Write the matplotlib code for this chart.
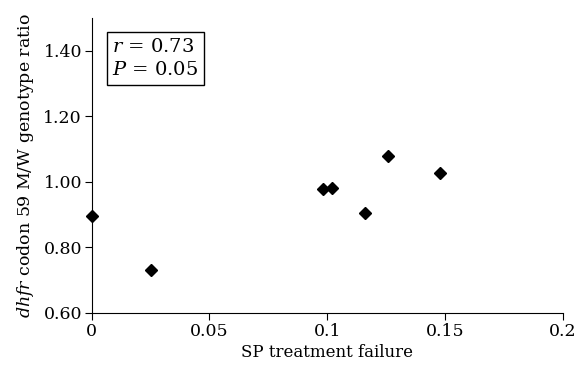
import numpy as np
import matplotlib
matplotlib.use('Agg')
import matplotlib.pyplot as plt

plt.rcParams['font.family'] = 'DejaVu Serif'
plt.rcParams['mathtext.fontset'] = 'dejavuserif'

# SP treatment failure vs dhfr ratio
failure = [0.0, 0.025, 0.098, 0.102, 0.116, 0.126, 0.148]
ratio = [0.895, 0.73, 0.977, 0.982, 0.905, 1.078, 1.026]

x_ticks = [0, 0.05, 0.1, 0.15, 0.2]
x_labels = ['0', '0.05', '0.1', '0.15', '0.2']
y_ticks = [0.6, 0.8, 1.0, 1.2, 1.4]

fig = plt.figure(figsize=(5.88, 3.69), dpi=100)
ax = fig.add_axes([0.156, 0.152, 0.801, 0.799])

ax.plot(failure, ratio, linestyle='none', marker='D', markersize=6.5,
        color='black', clip_on=False, zorder=3)

ax.set_xlim(0, 0.2)
ax.set_ylim(0.6, 1.5)
ax.set_xticks(x_ticks)
ax.set_xticklabels(x_labels)
ax.set_yticks(y_ticks)
ax.set_yticklabels(['%.2f' % v for v in y_ticks])
ax.spines['top'].set_visible(False)
ax.spines['right'].set_visible(False)
ax.tick_params(labelsize=12.5, length=5, direction='out', pad=2)

ax.set_xlabel('SP treatment failure', fontsize=12, labelpad=3)
ax.set_ylabel(r'$\it{dhfr}$ codon 59 M/W genotype ratio', fontsize=12.5, labelpad=5)

ax.text(0.0088, 1.377, '$\\it{r}$ = 0.73\n$\\it{P}$ = 0.05', fontsize=14,
        va='center', ha='left', linespacing=1.35,
        bbox=dict(boxstyle='square,pad=0.3', facecolor='white', edgecolor='black', linewidth=1))

fig.savefig('out.png', dpi=100)
